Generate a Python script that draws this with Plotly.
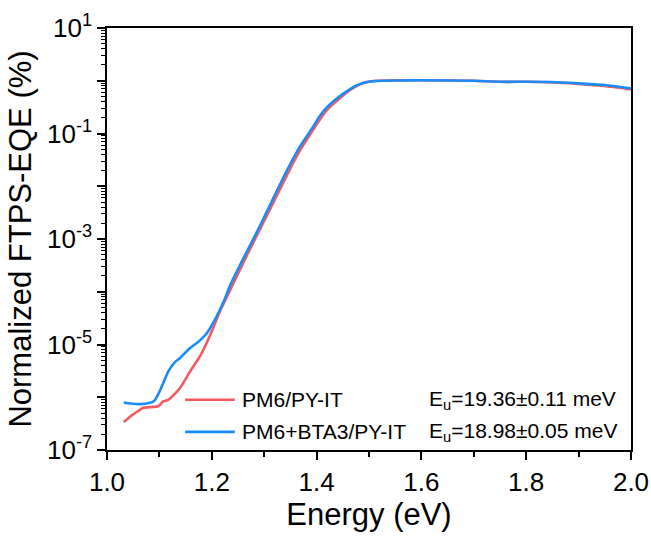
import plotly.graph_objects as go

# Photon energy (eV) and normalized FTPS-EQE (%) for both blends
energy_ref = [1.032, 1.045, 1.058, 1.069, 1.080, 1.098, 1.107, 1.117, 1.128, 1.139,
              1.158, 1.177, 1.184, 1.200, 1.216, 1.231, 1.248, 1.266, 1.286, 1.310,
              1.329, 1.350, 1.372, 1.398, 1.410, 1.423, 1.442, 1.466, 1.478, 1.495,
              1.515, 1.560, 1.600, 1.700, 1.750, 1.800, 1.850, 1.900, 1.950, 2.000]
eqe_ref = [3.39e-7, 4.37e-7, 5.37e-7, 6.31e-7, 6.46e-7, 6.76e-7, 8.32e-7, 8.91e-7, 1.12e-6, 1.48e-6,
           3.02e-6, 5.89e-6, 7.94e-6, 1.78e-5, 4.37e-5, 8.91e-5, 2.00e-4, 4.68e-4, 1.17e-3, 3.47e-3,
           8.32e-3, 2.19e-2, 5.50e-2, 0.138, 0.209, 0.302, 0.447, 0.692, 0.813, 0.944,
           1.0, 1.02, 1.02, 1.0, 0.955, 0.955, 0.933, 0.871, 0.794, 0.684]

energy_bta3 = [1.032, 1.045, 1.063, 1.080, 1.090, 1.100, 1.117, 1.130, 1.139, 1.158,
               1.174, 1.190, 1.209, 1.222, 1.235, 1.254, 1.273, 1.290, 1.305, 1.324,
               1.345, 1.368, 1.394, 1.406, 1.419, 1.438, 1.464, 1.476, 1.495, 1.515,
               1.560, 1.600, 1.700, 1.750, 1.800, 1.850, 1.900, 1.950, 2.000]
eqe_bta3 = [7.94e-7, 7.59e-7, 7.41e-7, 7.76e-7, 8.51e-7, 1.26e-6, 3.09e-6, 4.68e-6, 5.50e-6, 8.51e-6,
            1.12e-5, 1.62e-5, 3.39e-5, 6.31e-5, 1.32e-4, 3.24e-4, 7.59e-4, 1.62e-3, 3.31e-3, 8.13e-3,
            2.14e-2, 5.62e-2, 0.138, 0.214, 0.309, 0.457, 0.692, 0.813, 0.933, 0.989,
            1.01, 1.02, 1.0, 0.955, 0.955, 0.945, 0.89, 0.83, 0.716]

labels = ["PM6/PY-IT", "PM6+BTA3/PY-IT"]
urbach = ["E<sub>u</sub>=19.36±0.11 meV", "E<sub>u</sub>=18.98±0.05 meV"]
colors = ["#F5595E", "#1A8CFA"]

y_decades = [1e1, 1e0, 1e-1, 1e-2, 1e-3, 1e-4, 1e-5, 1e-6, 1e-7]
y_ticktext = ["10<sup>1</sup>", "", "10<sup>-1</sup>", "", "10<sup>-3</sup>", "",
              "10<sup>-5</sup>", "", "10<sup>-7</sup>"]

font_family = "Liberation Sans, Arial, sans-serif"

# legend rows (paper coordinates): sample line span, label start, Eu text start
legend_rows_y = [0.119, 0.043]
legend_line_x = (0.149, 0.244)
legend_label_x = 0.254
urbach_x = 0.611

fig = go.Figure()
for i, (x, y) in enumerate([(energy_ref, eqe_ref), (energy_bta3, eqe_bta3)]):
    fig.add_trace(go.Scatter(
        x=x, y=y, mode="lines", name=labels[i], showlegend=False,
        line=dict(color=colors[i], width=2.6, shape="spline", smoothing=0.5),
    ))

# hand-built legend: sample line, series name and Urbach energy on each row
for i in range(2):
    ry = legend_rows_y[i]
    fig.add_shape(type="line", xref="paper", yref="paper",
                  x0=legend_line_x[0], x1=legend_line_x[1], y0=ry, y1=ry,
                  line=dict(color=colors[i], width=2.6))
    fig.add_annotation(x=legend_label_x, y=ry, xref="paper", yref="paper",
                       text=labels[i], showarrow=False, xanchor="left", yanchor="middle",
                       font=dict(size=21, color="black", family=font_family))
    fig.add_annotation(x=urbach_x, y=ry, xref="paper", yref="paper",
                       text=urbach[i], showarrow=False, xanchor="left", yanchor="middle",
                       font=dict(size=21, color="black", family=font_family))

axis_common = dict(
    showline=True, linecolor="black", linewidth=1.5, mirror=True,
    ticks="outside", tickcolor="black", tickwidth=1.5, ticklen=8,
    showgrid=False, zeroline=False, automargin=False,
    tickfont=dict(size=26, color="black", family=font_family),
)

fig.update_xaxes(
    range=[1.0, 2.0], tickvals=[1.0, 1.2, 1.4, 1.6, 1.8, 2.0],
    ticktext=["1.0", "1.2", "1.4", "1.6", "1.8", "2.0"],
    minor=dict(ticks="outside", ticklen=5, tickwidth=1.5, tickcolor="black", dtick=0.1),
    title=dict(text="Energy (eV)", font=dict(size=31, color="black", family=font_family),
               standoff=2),
    **axis_common,
)
fig.update_yaxes(
    type="log", range=[-7, 1], tickvals=y_decades, ticktext=y_ticktext,
    minor=dict(ticks="outside", ticklen=4, tickwidth=1, tickcolor="black", dtick="D1"),
    title=dict(text="Normalized FTPS-EQE (%)",
               font=dict(size=31, color="black", family=font_family), standoff=6),
    **axis_common,
)

fig.update_layout(
    width=651, height=538,
    margin=dict(l=107, r=20, t=28, b=88),
    paper_bgcolor="white", plot_bgcolor="white",
    showlegend=False,
)

fig.write_html("out.html")
